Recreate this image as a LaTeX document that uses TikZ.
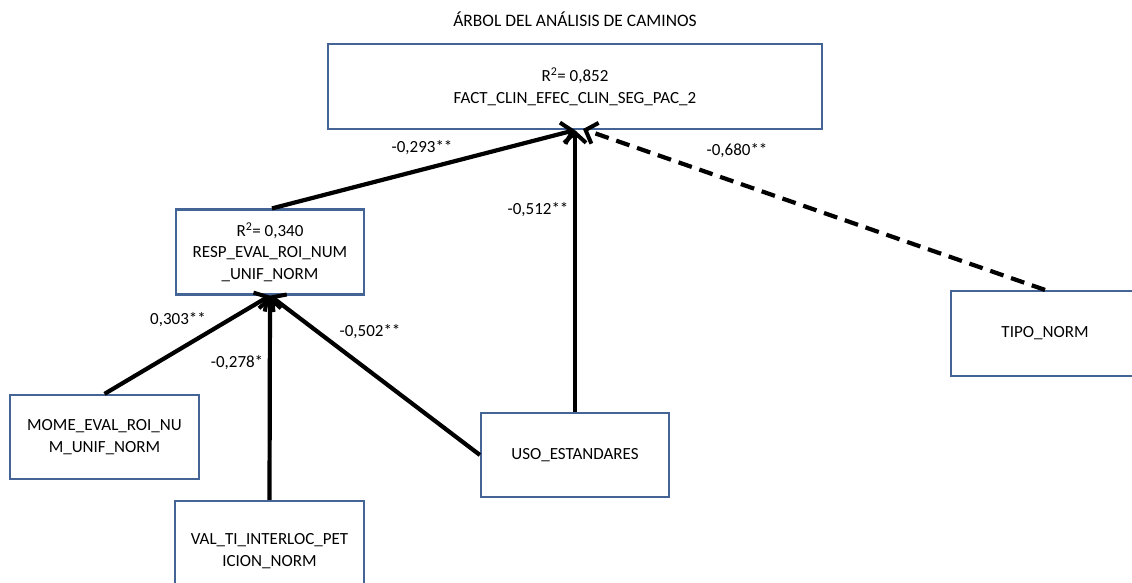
\documentclass[tikz,border=0pt]{standalone}
\usepackage{fontspec}
\setmainfont{Carlito}
\usetikzlibrary{arrows.meta}
\definecolor{boxblue}{RGB}{68,100,150}
\begin{document}
\begin{tikzpicture}[x=1pt,y=-1pt,
  box/.style={draw=boxblue, line width=2.2pt, fill=white, align=center, inner sep=0pt,
    font=\fontsize{17}{21.5}\selectfont},
  arr/.style={line width=4.2pt, line cap=butt,
    -{Straight Barb[length=10pt,width=22pt,line width=4pt]}},
  dashedarr/.style={arr, dash pattern=on 14pt off 8pt},
  lbl/.style={font=\fontsize{17}{21}\selectfont, inner sep=0pt},
  ttl/.style={font=\fontsize{17.5}{20}\selectfont, inner sep=0pt}]
\useasboundingbox (0,0) rectangle (1132,583);
\fill[white] (0,0) rectangle (1132,583);

\node[ttl] (title) at (575,19) {ÁRBOL DEL ANÁLISIS DE CAMINOS};

\node[box, minimum width=494pt, minimum height=85pt] (top) at (575,86.5)
  {R\textsuperscript{2}= 0,852\\FACT\_CLIN\_EFEC\_CLIN\_SEG\_PAC\_2};
\node[box, minimum width=188pt, minimum height=85pt] (resp) at (270,252)
  {R\textsuperscript{2}= 0,340\\RESP\_EVAL\_ROI\_NUM\\\_UNIF\_NORM};
\node[box, minimum width=189pt, minimum height=84pt] (mome) at (104.5,437)
  {MOME\_EVAL\_ROI\_NU\\M\_UNIF\_NORM};
\node[box, minimum width=189pt, minimum height=100pt] (val) at (269.5,551)
  {VAL\_TI\_INTERLOC\_PET\\ICION\_NORM};
\node[box, minimum width=188pt, minimum height=84pt] (uso) at (575,455)
  {USO\_ESTANDARES};
\node[box, minimum width=188pt, minimum height=85pt] (tipo) at (1045,333.5)
  {TIPO\_NORM};

\draw[arr] ([xshift=2pt]resp.north) -- (top.south);
\draw[arr] (uso.north) -- (top.south);
\draw[dashedarr] (tipo.north) -- ([xshift=8pt,yshift=1pt]top.south);
\draw[arr] (mome.north) -- (resp.south);
\draw[arr] (val.north) -- (resp.south);
\draw[arr] (uso.west) -- (resp.south);

\node[lbl] (l1) at (422,148) {-0,293**};
\node[lbl] (l2) at (538,210) {-0,512**};
\node[lbl] (l3) at (737,151) {-0,680**};
\node[lbl] (l4) at (178,320) {0,303**};
\node[lbl] (l5) at (237,363) {-0,278*};
\node[lbl] (l6) at (370,332) {-0,502**};
\end{tikzpicture}
\end{document}
